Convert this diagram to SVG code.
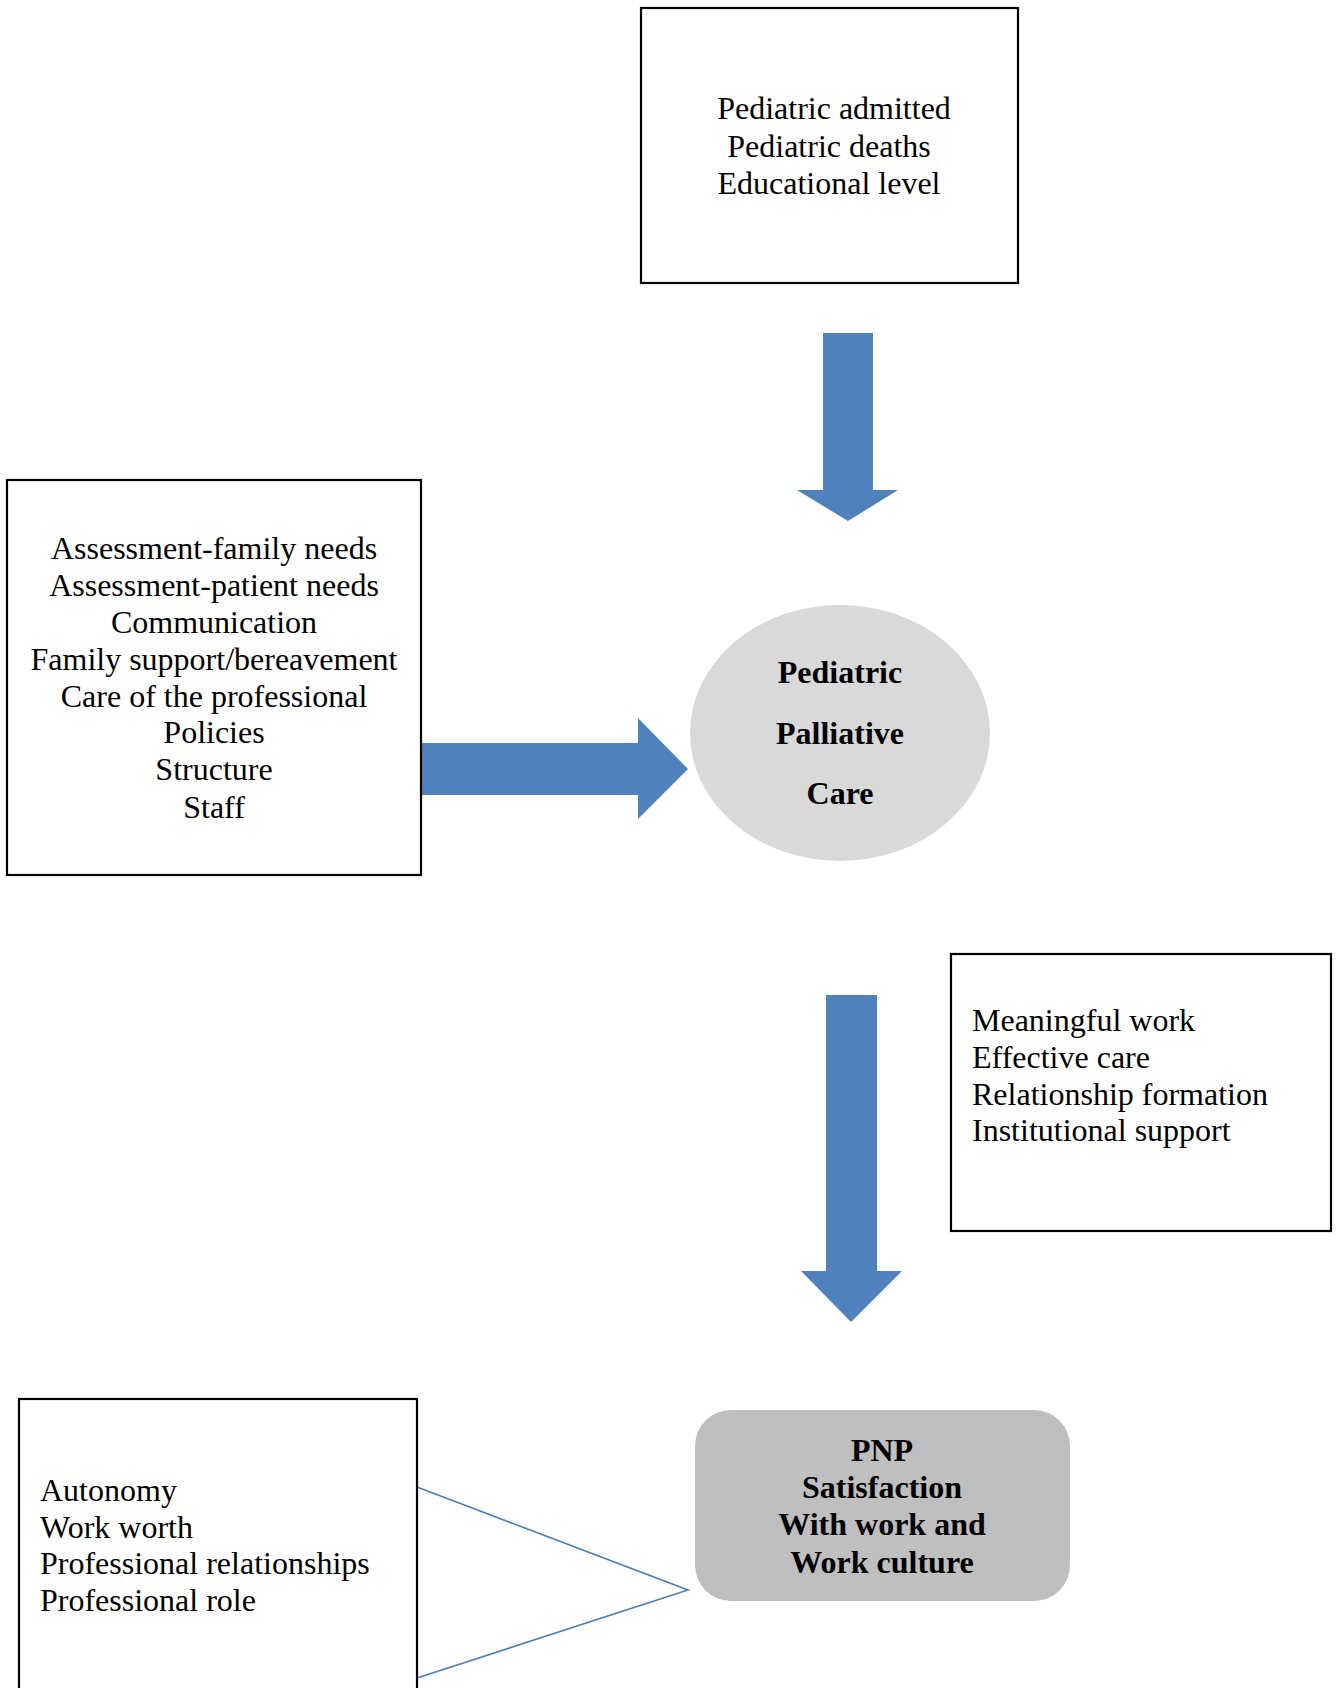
<svg xmlns="http://www.w3.org/2000/svg" width="1338" height="1688" viewBox="0 0 1338 1688">
<style>
.box{fill:#fff;stroke:#000;stroke-width:2.2}
.t{font-family:"Liberation Serif","Times New Roman",serif;font-size:32px;fill:#000}
.c{text-anchor:middle}
.b{font-weight:bold;font-size:32px}
.arr{fill:#4f81bd}
.ln{stroke:#4a7ebb;stroke-width:1.6;fill:none}
</style>
<rect width="1338" height="1688" fill="#fff"/>
<g id="connectors">
<polygon class="arr" points="823,333 873,333 873,490 898,490 848,521 797,490 823,490"/>
<polygon class="arr" points="422,743 638,743 638,718 688,769 638,819 638,795 422,795"/>
<polygon class="arr" points="826,995 877,995 877,1271 902,1271 851,1322 801,1271 826,1271"/>
<polyline class="ln" points="417,1487 688,1590 417,1678"/>
</g>
<g id="node-inputs">
<rect class="box" x="641" y="8" width="377" height="275"/>
<text class="t c" x="834" y="119">Pediatric admitted</text>
<text class="t c" x="829" y="157">Pediatric deaths</text>
<text class="t c" x="829" y="194">Educational level</text>
</g>
<g id="node-domains">
<rect class="box" x="7" y="480" width="414" height="395"/>
<text class="t c" x="214" y="559">Assessment-family needs</text>
<text class="t c" x="214" y="596">Assessment-patient needs</text>
<text class="t c" x="214" y="633">Communication</text>
<text class="t c" x="214" y="670">Family support/bereavement</text>
<text class="t c" x="214" y="707">Care of the professional</text>
<text class="t c" x="214" y="743">Policies</text>
<text class="t c" x="214" y="780">Structure</text>
<text class="t c" x="214" y="818">Staff</text>
</g>
<g id="node-ppc">
<ellipse cx="840" cy="733" rx="150" ry="128" fill="#d9d9d9"/>
<text class="t c b" x="840" y="683">Pediatric</text>
<text class="t c b" x="840" y="744">Palliative</text>
<text class="t c b" x="840" y="804">Care</text>
</g>
<g id="node-outcomes">
<rect class="box" x="951" y="954" width="380" height="277"/>
<text class="t" x="972" y="1031">Meaningful work</text>
<text class="t" x="972" y="1068">Effective care</text>
<text class="t" x="972" y="1105">Relationship formation</text>
<text class="t" x="972" y="1141">Institutional support</text>
</g>
<g id="node-factors">
<rect class="box" x="19" y="1399" width="398" height="320"/>
<text class="t" x="40" y="1501">Autonomy</text>
<text class="t" x="40" y="1538">Work worth</text>
<text class="t" x="40" y="1574">Professional relationships</text>
<text class="t" x="40" y="1611">Professional role</text>
</g>
<g id="node-pnp">
<rect x="695" y="1410" width="375" height="191" rx="36" ry="36" fill="#bfbfbf"/>
<text class="t c b" x="882" y="1461">PNP</text>
<text class="t c b" x="882" y="1498">Satisfaction</text>
<text class="t c b" x="882" y="1535">With work and</text>
<text class="t c b" x="882" y="1573">Work culture</text>
</g>
</svg>
